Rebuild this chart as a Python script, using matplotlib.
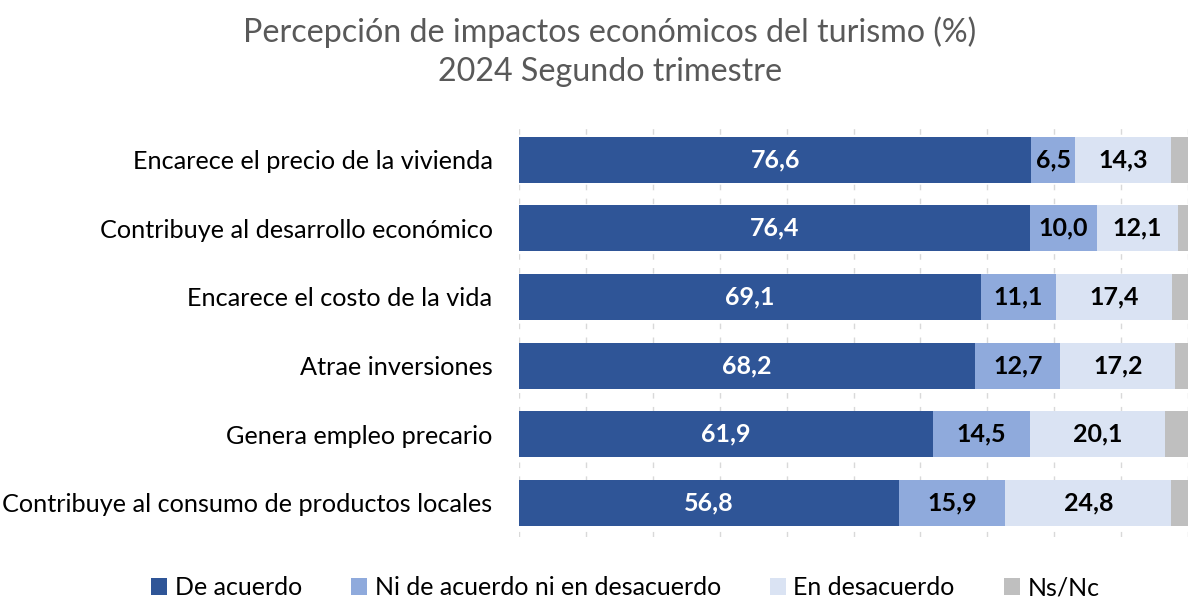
import numpy as np
import matplotlib.pyplot as plt
from matplotlib.patches import Patch

plt.rcParams['font.family'] = ['Lato', 'DejaVu Sans']

categorias = [
    "Encarece el precio de la vivienda",
    "Contribuye al desarrollo económico",
    "Encarece el costo de la vida",
    "Atrae inversiones",
    "Genera empleo precario",
    "Contribuye al consumo de productos locales",
]
de_acuerdo = [76.6, 76.4, 69.1, 68.2, 61.9, 56.8]
ni_ni = [6.5, 10.0, 11.1, 12.7, 14.5, 15.9]
en_desacuerdo = [14.3, 12.1, 17.4, 17.2, 20.1, 24.8]
ns_nc = [2.6, 1.5, 2.4, 1.9, 3.5, 2.5]

series = ["De acuerdo", "Ni de acuerdo ni en desacuerdo", "En desacuerdo", "Ns/Nc"]
colores = ["#2F5597", "#8FAADC", "#DAE3F3", "#BFBFBF"]
color_texto = ["white", "black", "black", None]

fig = plt.figure(figsize=(12, 6.14), dpi=100)
ax = fig.add_axes([0.4325, 0.125, 0.5575, 0.671])

y = np.arange(len(categorias))
left = np.zeros(len(categorias))
for vals, col, tc in zip([de_acuerdo, ni_ni, en_desacuerdo, ns_nc], colores, color_texto):
    vals = np.array(vals)
    bars = ax.barh(y, vals, left=left, height=0.67, color=col, zorder=2)
    if tc is not None:
        ax.bar_label(bars, labels=[f"{v:.1f}".replace(".", ",") for v in vals],
                     label_type='center', color=tc, fontsize=18, fontweight='bold')
    left += vals

ax.set_ylim(len(categorias) - 0.5, -0.5)
ax.set_xlim(0, 100)
ax.set_yticks(y)
ax.set_yticklabels(categorias, fontsize=18.2, color='black')
ax.set_xticks(np.arange(0, 101, 10))
ax.set_xticklabels([])
ax.tick_params(axis='both', length=0, pad=19)
ax.grid(axis='x', color='#D9D9D9', linestyle=(0, (4, 6)), linewidth=1, zorder=0)
for s in ax.spines.values():
    s.set_visible(False)

fig.text(0.508, 0.947, "Percepción de impactos económicos del turismo (%)",
         ha='center', va='center', fontsize=23.2, color='#595959')
fig.text(0.508, 0.882, "2024 Segundo trimestre",
         ha='center', va='center', fontsize=23.2, color='#595959')

handles = [Patch(facecolor=c, edgecolor='none') for c in colores]
fig.legend(handles, series, loc='center', bbox_to_anchor=(0.521, 0.043), ncol=4,
           frameon=False, fontsize=18, handlelength=0.65, handleheight=0.7,
           handletextpad=0.3, columnspacing=1.95)

fig.savefig("out.png", dpi=100, facecolor='white')
